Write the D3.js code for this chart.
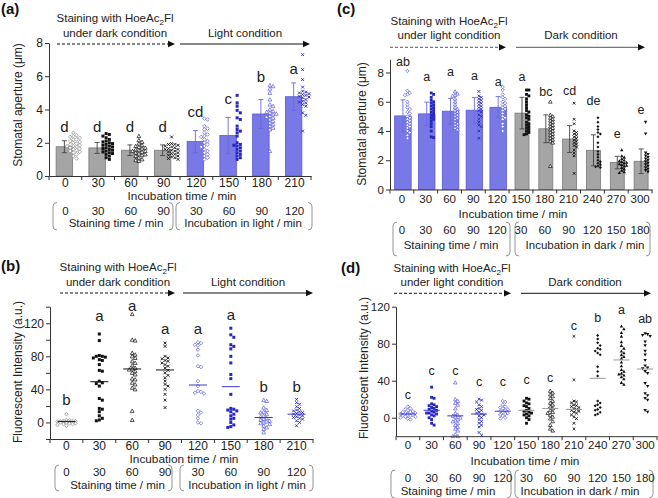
<!DOCTYPE html>
<html><head><meta charset="utf-8">
<script src="https://cdn.jsdelivr.net/npm/d3@7"></script>
<style>body{margin:0;background:#fff} svg{display:block;font-family:"Liberation Sans",Arial,sans-serif}</style>
</head><body><svg id="c" width="658" height="498"></svg>
<script>
// ---------------- DATA ----------------
const catsA = ["0","30","60","90","120","150","180","210"];
const stainTimesA = ["0","30","60","90"];
const lightTimesA = ["30","60","90","120"];
const meanA = [1.76, 1.69, 1.55, 1.55, 2.07, 2.44, 3.73, 4.77];
const sdA = [0.36, 0.33, 0.32, 0.32, 0.66, 1.08, 0.87, 0.83];
const lettersA = ["d","d","d","d","cd","c","b","a"];
const letterAtA = [3.0, 3.0, 3.0, 3.0, 3.9, 4.65, 5.95, 6.45];
const ptsA = [
  [2.6,2.45,2.4,2.35,2.3,2.2,2.2,2.1,2.05,2.0,1.95,1.9,1.85,1.8,1.8,1.75,1.7,1.65,1.6,1.55,1.5,1.45,1.4,1.3,1.2,1.05],
  [2.55,2.5,2.4,2.3,2.2,2.1,2.05,2.0,1.95,1.9,1.85,1.8,1.75,1.7,1.65,1.6,1.55,1.5,1.45,1.4,1.35,1.3,1.2,1.1,1.0],
  [2.4,2.15,2.05,1.95,1.85,1.8,1.75,1.7,1.65,1.6,1.55,1.5,1.5,1.45,1.4,1.35,1.3,1.25,1.2,1.1,1.0,0.95,0.9],
  [2.35,1.95,1.9,1.9,1.85,1.8,1.75,1.7,1.65,1.6,1.6,1.55,1.5,1.45,1.4,1.35,1.3,1.25,1.2,1.15,1.1,1.05,1.0],
  [3.45,3.4,3.0,2.85,2.8,2.6,2.5,2.4,2.35,2.2,2.1,2.0,1.9,1.8,1.75,1.6,1.5,1.4,1.3,1.2,1.1,1.0],
  [4.85,4.4,4.2,3.95,3.8,3.5,3.4,3.0,2.8,2.7,2.6,2.4,2.0,1.9,1.85,1.8,1.7,1.6,1.5,1.4,1.3,1.2,1.1,1.0],
  [5.45,5.4,5.25,5.0,4.6,4.3,4.2,4.0,3.9,3.85,3.8,3.75,3.7,3.6,3.55,3.5,3.4,3.3,3.2,3.1,3.0,2.9,2.8,1.5],
  [7.3,6.4,5.8,5.35,5.1,5.05,5.0,4.95,4.9,4.85,4.8,4.75,4.7,4.6,4.5,4.45,4.4,4.3,4.2,3.8,3.65,2.7]
];

const meanB = [1, 49.3, 64.7, 63.5, 45.3, 43.3, 6, 10];
const lettersB = ["b","a","a","a","a","a","b","b"];
const letterAtB = [28, 129, 141, 114, 114, 130, 43, 43];
const ptsB = [
  [10,3,2.5,2,2,1.5,1.5,1,1,0.5,0.5,0,0,-0.5,-1,-1,-2,-2,-3,-4],
  [107,99,81,80,80,79,78,76,75,70,63,62,50,48,47,44,29,27,17,16,13,8,5,3,2],
  [131,100,99,84,82,80,78,74,72,69,66,65,64,62,60,58,53,52,48,46,42,40,14,3],
  [96,92,80,78,77,75,74,72,70,68,66,63,60,57,54,50,46,44,40,34,27,18],
  [97,96,94,93,88,81,68,67,50,44,38,37,36,35,14,12,9,5,0,-1],
  [114,106,103,94,92,89,80,72,58,53,34,17,16,15,14,13,10,8,5,4,0,-3,-5,-6],
  [27,26,18,15,13,12,10,8,7,5,4,3,2,1,0,-1,-2,-4,-6,-8,-12],
  [28,24,22,19,17,15,14,13,12,11,10,9,8,7,6,5,4,2,0,-4]
];

const catsC = ["0","30","60","90","120","150","180","210","240","270","300"];
const stainTimesC = ["0","30","60","90","120"];
const darkTimesC = ["30","60","90","120","150","180"];
const meanC = [5.03, 5.17, 5.35, 5.42, 5.62, 5.22, 4.15, 3.45, 2.68, 1.84, 1.93];
const sdC = [1.1, 0.8, 0.88, 0.86, 0.73, 1.08, 0.95, 0.92, 1.06, 0.43, 0.84];
const lettersC = ["ab","a","a","a","a","a","bc","cd","de","e","e"];
const letterAtC = [8.75, 7.7, 8.05, 7.8, 7.4, 7.7, 6.7, 6.8, 6.05, 3.8, 5.45];
const ptsC = [
  [8.1,6.75,6.6,6.5,6.45,6.0,5.8,5.6,5.5,5.3,5.2,5.0,4.9,4.8,4.7,4.6,4.5,4.4,4.3,4.2,4.0,3.9,3.7,3.5],
  [6.6,6.5,6.3,6.1,6.0,5.9,5.8,5.7,5.6,5.5,5.4,5.3,5.2,5.1,5.0,4.9,4.8,4.7,4.5,4.3,4.0,3.6,3.55],
  [6.7,6.55,6.45,6.4,6.2,6.0,5.8,5.6,5.5,5.4,5.3,5.2,5.1,5.0,4.9,4.8,4.6,4.5,4.4,4.3,4.2,4.1],
  [6.7,6.4,6.3,6.2,6.1,6.0,5.9,5.8,5.7,5.6,5.5,5.4,5.3,5.1,5.0,4.8,4.6,4.4,4.3,4.0,3.5],
  [7.0,6.8,6.5,6.3,6.2,6.0,5.9,5.8,5.7,5.6,5.5,5.4,5.2,5.0,4.9,4.8,4.5,4.3,4.0],
  [6.8,6.8,6.5,6.4,6.2,6.0,5.8,5.6,5.4,5.3,5.1,5.0,4.9,4.8,4.6,4.5,4.4,4.3,4.2,4.1,4.0,3.9,3.8,3.75],
  [6.0,5.1,5.0,4.9,4.8,4.7,4.6,4.5,4.4,4.3,4.2,4.1,4.0,3.9,3.8,3.7,3.6,3.5,3.4,3.3,3.2,1.6],
  [5.9,4.8,4.5,4.0,3.9,3.8,3.7,3.6,3.5,3.4,3.3,3.2,3.1,3.0,2.9,2.7,2.5,2.3,1.1],
  [4.9,4.6,4.3,4.1,3.9,3.8,3.6,3.2,2.9,2.6,2.4,2.2,2.0,1.9,1.8,1.7,1.6,1.55,1.5],
  [2.7,2.3,2.2,2.1,2.0,1.95,1.9,1.85,1.8,1.75,1.7,1.65,1.6,1.5,1.4,1.3,1.2,1.15],
  [4.6,3.8,2.5,2.4,2.3,2.2,2.1,2.0,1.9,1.8,1.7,1.6,1.5,1.4,1.3,1.2]
];

const meanD = [4, 8, 2, 4, 7, 8, 10, 9, 42.6, 62.4, 52.6];
const lettersD = ["c","c","c","c","c","c","c","c","b","a","ab"];
const letterAtD = [25, 50.5, 50.5, 39, 39, 41, 43, 100, 108, 116.5, 107.5];
const ptsD = [
  [12,10,9,8,7,6,6,5,5,4,4,3,3,2,2,1,1,0,-1,-2],
  [33,22,21,15,14,13,12,11,10,9,8,7,6,5,5,4,3,2,0,-2,-6,-8],
  [38,20,18,16,14,10,5,3,2,1,0,-2,-3,-4,-6,-8,-10,-12,-14,-18,-20,-20],
  [20,19,17,14,12,10,9,8,6,5,4,3,2,0,-2,-4,-6,-8,-10,-16,-19],
  [18,17,14,12,11,10,9,8,7,6,5,4,3,2,0,-1],
  [21,20,18,16,15,13,12,10,8,7,6,5,4,3,2,0,-2,-6],
  [29,27,25,23,21,18,16,14,12,10,8,6,5,3,1,-1,-4,-8,-12,-14],
  [88,41,18,17,16,14,13,12,11,10,9,8,7,6,5,3,1,-1,-6,-12],
  [89,85,81,78,75,74,72,70,68,55,50,45,18,16,14,13,11,9,8,6,4,3],
  [99,96,92,88,82,78,75,72,70,68,66,64,60,56,52,50,48,47,46,44,42,38,36],
  [91,90,89,88,82,78,72,68,62,56,54,53,50,48,37,34,26,24,21,19,8,6]
];

// ---------------- STYLE ----------------
const C = {
  blue: "#2626c4", blueOpen: "#5a5ae0", black: "#111", grayMark: "#8a8a8a",
  grayBar: "#a5a5a5", grayBarStroke: "#7a7a7a", blueBar: "#7878e6", blueBarStroke: "#5a5ad2",
  axis: "#333", text: "#222"
};
const FONT = '"Liberation Sans", Arial, sans-serif';
const svg = d3.select("#c");

function marker(g, shape, x, y, col, k) {
  k = k || 1;
  let s;
  switch (shape) {
    case "dOpen": s = 1.8*k;
      g.append("path").attr("d", `M${x},${y-s}L${x+s},${y}L${x},${y+s}L${x-s},${y}Z`).attr("fill", "#fff").attr("stroke", col).attr("stroke-width", 0.7); break;
    case "sq": s = 1.5*k;
      g.append("rect").attr("x", x-s).attr("y", y-s).attr("width", 2*s).attr("height", 2*s).attr("fill", col); break;
    case "tOpen": s = 1.9*k;
      g.append("path").attr("d", `M${x},${y-s}L${x+s},${y+s*0.8}L${x-s},${y+s*0.8}Z`).attr("fill", "#fff").attr("stroke", col).attr("stroke-width", 0.7); break;
    case "x": s = 1.4*k;
      g.append("path").attr("d", `M${x-s},${y-s}L${x+s},${y+s}M${x-s},${y+s}L${x+s},${y-s}`).attr("stroke", col).attr("stroke-width", 0.9); break;
    case "dot": s = 1.6*k;
      g.append("path").attr("d", `M${x},${y-s}L${x+s},${y}L${x},${y+s}L${x-s},${y}Z`).attr("fill", col); break;
    case "tFill": s = 1.8*k;
      g.append("path").attr("d", `M${x},${y-s}L${x+s},${y+s*0.8}L${x-s},${y+s*0.8}Z`).attr("fill", col); break;
    case "tDown": s = 1.8*k;
      g.append("path").attr("d", `M${x},${y+s}L${x+s},${y-s*0.8}L${x-s},${y-s*0.8}Z`).attr("fill", col); break;
  }
}

function swarm(vals, y, cx, step, order, minDy) {
  const placed = [];
  const sorted = vals.map(v => ({ v, py: y(v) })).sort((a, b) => a.py - b.py);
  return sorted.map(p => {
    let best = order[0], bestC = 1e9;
    for (const s of order) {
      const c = placed.filter(q => q.slot === s && Math.abs(q.py - p.py) < minDy).length;
      if (c === 0) { best = s; break; }
      if (c < bestC) { bestC = c; best = s; }
    }
    placed.push({ slot: best, py: p.py });
    return { x: cx + best * step, y: p.py };
  });
}

function textAt(g, x, y, str, size, anchor, weight) {
  return g.append("text").attr("x", x).attr("y", y).attr("font-size", size).attr("text-anchor", anchor || "middle")
    .attr("font-weight", weight || "normal").attr("fill", C.text).attr("font-family", FONT).text(str);
}

function header(g, o) {
  textAt(g, o.lx, o.ly, o.label, 15, "start", "bold").attr("fill", "#111");
  const t = g.append("text").attr("x", o.hx).attr("y", o.hy1).attr("font-size", 11.5).attr("text-anchor", "middle").attr("fill", C.text).attr("font-family", FONT);
  t.append("tspan").text("Staining with HoeAc");
  t.append("tspan").attr("font-size", 8).attr("dy", 3).text("2");
  t.append("tspan").attr("dy", -3).text("Fl");
  textAt(g, o.hx, o.hy2, o.sub1, 11.5);
  textAt(g, o.hx2, o.hy2, o.sub2, 11.5);
  const arrow = (x1, x2, dashed, col) => {
    g.append("line").attr("x1", x1).attr("x2", x2 - 6).attr("y1", o.ay).attr("y2", o.ay)
      .attr("stroke", col).attr("stroke-width", 1).attr("stroke-dasharray", dashed ? "3,2" : null);
    g.append("path").attr("d", `M${x2},${o.ay}L${x2-7},${o.ay-3.2}L${x2-7},${o.ay+3.2}Z`).attr("fill", "#111");
  };
  arrow(o.a1[0], o.a1[1], true, o.arrowCol);
  arrow(o.a2[0], o.a2[1], false, o.arrowCol);
}

function brackets(g, o, x) {
  const br = (xl, xr) => {
    const t = o.bTop, b = o.bBot, r = 4;
    g.append("path").attr("d", `M${xl+r},${t}Q${xl},${t} ${xl},${t+r}L${xl},${b-r}Q${xl},${b} ${xl+r},${b}`)
      .attr("fill", "none").attr("stroke", "#888").attr("stroke-width", 0.9);
    g.append("path").attr("d", `M${xr-r},${t}Q${xr},${t} ${xr},${t+r}L${xr},${b-r}Q${xr},${b} ${xr-r},${b}`)
      .attr("fill", "none").attr("stroke", "#888").attr("stroke-width", 0.9);
  };
  br(o.b1[0], o.b1[1]);
  br(o.b2[0], o.b2[1]);
  const n1 = o.row1.length;
  o.row1.forEach((s, i) => textAt(g, x(o.cats[i]) + x.bandwidth() / 2, o.rowY, s, 11.5));
  o.row2.forEach((s, i) => textAt(g, x(o.cats[n1 + i]) + x.bandwidth() / 2, o.rowY, s, 11.5));
  textAt(g, o.t1x, o.rowY2, o.t1, 11.5);
  textAt(g, o.t2x, o.rowY2, o.t2, 11.5);
}

function panel(o) {
  const g = svg.append("g");
  const x = d3.scaleBand().domain(o.cats).range([o.x0, o.x1]);
  const y = d3.scaleLinear().domain(o.ydom).range([o.yB, o.yT]);
  const bw = x.bandwidth();
  const cx = c => x(c) + bw / 2;

  const ya = d3.axisLeft(y).tickValues(o.yticks).tickSize(4).tickSizeOuter(0).tickPadding(2)
    .tickFormat(d => o.ylabels.includes(d) ? d : "");
  const yg = g.append("g").attr("transform", `translate(${o.x0},0)`).call(ya);
  yg.attr("font-size", o.tickFs).attr("font-family", FONT);
  yg.selectAll("path,line").attr("stroke", C.axis);
  yg.selectAll("text").attr("fill", C.text);

  if (o.means && o.sd) {
    o.cats.forEach((c, i) => {
      const isBlue = o.blue[i];
      const w = isBlue ? o.barW : o.barWg;
      const bx = cx(c) + o.barShift - w / 2;
      g.append("rect").attr("x", bx).attr("y", y(o.means[i])).attr("width", w)
        .attr("height", y(o.ydom[0]) - y(o.means[i]))
        .attr("fill", isBlue ? C.blueBar : C.grayBar).attr("stroke", isBlue ? C.blueBarStroke : C.grayBarStroke).attr("stroke-width", 0.8);
    });
  }
  o.cats.forEach((c, i) => {
    const isBlue = o.blue[i];
    const shape = o.shapes[i];
    let col = isBlue ? (shape === "dOpen" || shape === "tOpen" ? C.blueOpen : C.blue) : C.black;
    if (o.grayFirst && i === 0) col = C.grayMark;
    const pts = swarm(o.pts[i], y, cx(c) + o.swarmShift, o.step, o.order, o.minDy);
    pts.forEach(p => marker(g, shape, p.x, p.y, col, o.mk));
  });
  if (o.means && o.sd) {
    o.cats.forEach((c, i) => {
      const isBlue = o.blue[i];
      const ex = cx(c) + o.barShift;
      const col = isBlue ? "#6a6ad8" : "#444";
      const t = y(o.means[i] + o.sd[i]), b = y(o.means[i] - o.sd[i]);
      g.append("path").attr("d", `M${ex},${t}L${ex},${b}M${ex-2.5},${t}L${ex+2.5},${t}M${ex-2.5},${b}L${ex+2.5},${b}`)
        .attr("stroke", col).attr("stroke-width", 0.9).attr("fill", "none");
    });
  }
  if (o.meanLines) {
    o.cats.forEach((c, i) => {
      g.append("line").attr("x1", cx(c) - o.mlw).attr("x2", cx(c) + o.mlw)
        .attr("y1", y(o.meanLines[i])).attr("y2", y(o.meanLines[i]))
        .attr("stroke", o.blue[i] ? "#3a3ad0" : o.mlCol).attr("stroke-width", 1);
    });
  }
  o.cats.forEach((c, i) => {
    textAt(g, cx(c) + o.barShift, y(o.letterAt[i]) + o.letterSize * 0.36, o.letters[i], o.letterSize);
  });

  const xa = d3.axisBottom(x).tickSize(0).tickSizeOuter(0).tickPadding(o.xPad);
  const xg = g.append("g").attr("transform", `translate(0,${o.yB})`).call(xa);
  xg.attr("font-size", o.tickFs).attr("font-family", FONT);
  xg.selectAll("path").attr("stroke", C.axis);
  xg.selectAll("text").attr("fill", C.text);
  d3.range(o.cats.length + 1).forEach(k => {
    const xx = o.x0 + k * x.step();
    g.append("line").attr("x1", xx).attr("x2", xx).attr("y1", o.yB).attr("y2", o.yB + 4).attr("stroke", C.axis);
  });
  textAt(g, o.xtX, o.xtY, "Incubation time / min", 11.8);
  g.append("text").attr("transform", `translate(${o.ytX},${o.ytY}) rotate(-90)`).attr("text-anchor", "middle")
    .attr("font-size", 12).attr("fill", C.text).attr("font-family", FONT).text(o.ytitle);

  header(g, o);
  brackets(g, o, x);
}

const sym = [0, 1, -1, 2, -2, 3, -3];
const right = [0, 1, -1, 2, -2];

panel({
  cats: catsA, x0: 49, x1: 311, ydom: [0, 8], yB: 176, yT: 43, yticks: [0, 2, 4, 6, 8], ylabels: [0, 2, 4, 6, 8], tickFs: 12,
  means: meanA, sd: sdA, blue: [0,0,0,0,1,1,1,1], shapes: ["dOpen","sq","tOpen","x","dOpen","sq","tOpen","x"], grayFirst: true,
  pts: ptsA, barW: 16.5, barWg: 16.5, barShift: -1, swarmShift: 8, step: 3.2, order: right, minDy: 3.0, mk: 1,
  letters: lettersA, letterAt: letterAtA, letterSize: 15,
  xPad: 2, xtX: 182, xtY: 199.8, ytX: 22, ytY: 105, ytitle: "Stomatal aperture (μm)",
  label: "(a)", lx: 1, ly: 14, hx: 115, hy1: 22, hy2: 37, sub1: "under dark condition", hx2: 245, sub2: "Light condition",
  ay: 44, a1: [57, 175], a2: [180, 310], arrowCol: "#111",
  bTop: 202.5, bBot: 230, b1: [53, 173], b2: [176, 312], row1: stainTimesA, row2: lightTimesA, rowY: 214.5, rowY2: 227,
  t1: "Staining time / min", t1x: 116, t2: "Incubation in light / min", t2x: 243
});

panel({
  cats: catsA, x0: 50, x1: 313, ydom: [-20, 140], yB: 439, yT: 306.7, yticks: [-20,0,20,40,60,80,100,120,140], ylabels: [0, 40, 80, 120], tickFs: 12,
  blue: [0,0,0,0,1,1,1,1], shapes: ["dOpen","sq","tOpen","x","dOpen","sq","tOpen","x"], grayFirst: true,
  pts: ptsB, barShift: 0, swarmShift: 0, step: 3.0, order: sym, minDy: 2.8, mk: 1,
  meanLines: meanB, mlw: 9, mlCol: "#111",
  letters: lettersB, letterAt: letterAtB, letterSize: 15,
  xPad: 2, xtX: 184, xtY: 462.8, ytX: 22, ytY: 372, ytitle: "Fluorescent Intensity (a.u.)",
  label: "(b)", lx: 1, ly: 271, hx: 118, hy1: 271, hy2: 286, sub1: "under dark condition", hx2: 248, sub2: "Light condition",
  ay: 293, a1: [60, 175], a2: [183, 313], arrowCol: "#111",
  bTop: 465, bBot: 491, b1: [55, 172], b2: [180, 313], row1: stainTimesA, row2: lightTimesA, rowY: 476, rowY2: 488.8,
  t1: "Staining time / min", t1x: 117.5, t2: "Incubation in light / min", t2x: 247
});

panel({
  cats: catsC, x0: 390, x1: 652, ydom: [0, 8.9], yB: 189.5, yT: 59.3, yticks: [0, 2, 4, 6, 8], ylabels: [0, 2, 4, 6, 8], tickFs: 11.5,
  means: meanC, sd: sdC, blue: [1,1,1,1,1,0,0,0,0,0,0], shapes: ["dOpen","sq","tOpen","x","dOpen","sq","tOpen","x","dot","tFill","tDown"],
  pts: ptsC, barW: 16.5, barWg: 14, barShift: 1, swarmShift: 5.5, step: 2.4, order: right, minDy: 2.8, mk: 0.95,
  letters: lettersC, letterAt: letterAtC, letterSize: 12.5,
  xPad: 5, xtX: 513, xtY: 217.5, ytX: 366, ytY: 124, ytitle: "Stomatal aperture (μm)",
  label: "(c)", lx: 337, ly: 14, hx: 449, hy1: 25, hy2: 39, sub1: "under light condition", hx2: 581, sub2: "Dark condition",
  ay: 47.3, a1: [390, 506], a2: [516, 645], arrowCol: "#555",
  bTop: 222, bBot: 256, b1: [393, 510], b2: [515, 650], row1: stainTimesC, row2: darkTimesC, rowY: 234, rowY2: 249,
  t1: "Staining time / min", t1x: 451, t2: "Incubation in dark / min", t2x: 585
});

panel({
  cats: catsC, x0: 396, x1: 657, ydom: [-20, 120], yB: 436.2, yT: 306.7, yticks: [0, 40, 80, 120], ylabels: [0, 40, 80, 120], tickFs: 11.5,
  blue: [1,1,1,1,1,0,0,0,0,0,0], shapes: ["dOpen","sq","tOpen","x","dOpen","sq","tOpen","x","dot","tFill","tDown"],
  pts: ptsD, barShift: 0, swarmShift: 0, step: 2.5, order: sym, minDy: 2.8, mk: 0.95,
  meanLines: meanD, mlw: 8, mlCol: "#999",
  letters: lettersD, letterAt: letterAtD, letterSize: 12.5,
  xPad: 5, xtX: 525, xtY: 465, ytX: 368, ytY: 368, ytitle: "Fluorescent Intensity (a.u.)",
  label: "(d)", lx: 341, ly: 273, hx: 452, hy1: 272, hy2: 286, sub1: "under light condition", hx2: 585, sub2: "Dark condition",
  ay: 293.3, a1: [394, 511], a2: [521, 651], arrowCol: "#111",
  bTop: 470, bBot: 498, b1: [391, 511], b2: [515, 653], row1: stainTimesC, row2: darkTimesC, rowY: 482, rowY2: 495,
  t1: "Staining time / min", t1x: 448, t2: "Incubation in dark / min", t2x: 580
});
</script></body></html>
